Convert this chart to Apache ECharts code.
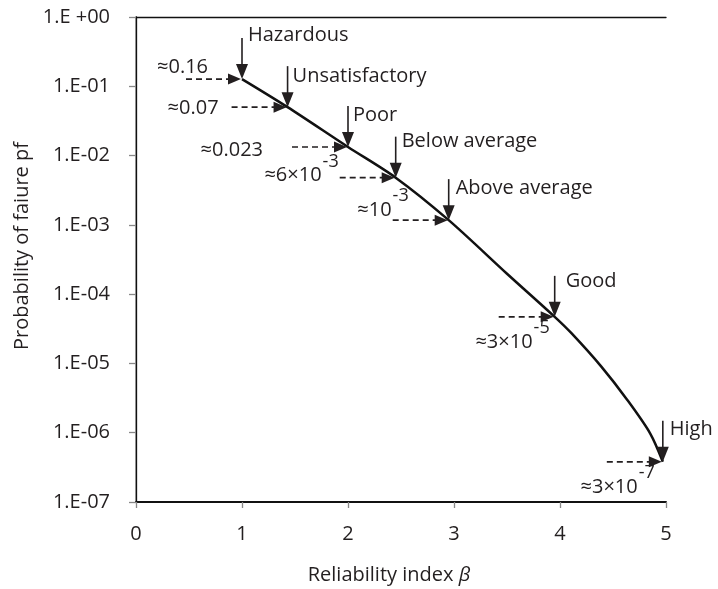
<!DOCTYPE html>
<html>
<head>
<meta charset="utf-8">
<style>
  html, body { margin: 0; padding: 0; background: #fff; }
  #chart { width: 718px; height: 589px; }
</style>
<script src="https://cdn.jsdelivr.net/npm/echarts@6/dist/echarts.min.js"></script>
</head>
<body>
<div id="chart"></div>
<script>
// Probability of failure versus reliability index (log scale)
const curveBeta = [1.0, 1.43, 2.0, 2.45, 2.95, 3.5, 3.95, 4.11, 4.39, 4.635, 4.85, 4.97];
const curvePf   = [0.127, 0.05, 0.0133, 0.0048, 0.00117, 1.97e-4, 4.7e-5, 2.71e-5, 9.0e-6, 2.97e-6, 9.8e-7, 3.8e-7];

// Performance levels marked along the curve
const classNames = ['Hazardous', 'Unsatisfactory', 'Poor', 'Below average', 'Above average', 'Good', 'High'];
const classBeta  = [1.0, 1.43, 2.0, 2.45, 2.95, 3.95, 4.97];
const classPf    = [0.127, 0.05, 0.0133, 0.0048, 0.00117, 4.7e-5, 3.8e-7];
const approxText = ['≈0.16', '≈0.07', '≈0.023', '≈6×10', '≈10', '≈3×10', '≈3×10'];
const approxExp  = ['', '', '', '-3', '-3', '-5', '-7'];

const xTicks = [0, 1, 2, 3, 4, 5];
const yTickLabels = ['1.E +00', '1.E-01', '1.E-02', '1.E-03', '1.E-04', '1.E-05', '1.E-06', '1.E-07'];

const FONT = '"Open Sans", "Liberation Sans", sans-serif';
const INK = '#231f20';
const FS = 20;
const SUP_FS = 18;

// Label placement per level (pixel offsets relative to the arrow tip)
const nameOffset = {
  'Hazardous': [6, -3], 'Unsatisfactory': [5, 10], 'Poor': [5, 9], 'Below average': [6, 5],
  'Above average': [7, 9], 'Good': [11, 5], 'High': [7, 8]
};
const approxOffset = {
  'Hazardous': [-34, -12], 'Unsatisfactory': [-69, 1], 'Poor': [-85, 3], 'Below average': [-57, -2],
  'Above average': [-40, -10], 'Good': [-5, 25], 'High': [-8, 25]
};

const measureCtx = document.createElement('canvas').getContext('2d');
function textWidth(str, size) {
  measureCtx.font = size + 'px ' + FONT;
  return measureCtx.measureText(str).width;
}

const chart = echarts.init(document.getElementById('chart'), null, { renderer: 'canvas' });

function renderMarker(params, api) {
  const i = api.value(2);
  const name = classNames[i];
  const p = api.coord([api.value(0), api.value(1)]);
  const x = p[0], y = p[1];
  const shaft = 41;
  const children = [
    // vertical solid arrow from above
    { type: 'line', shape: { x1: x, y1: y - shaft, x2: x, y2: y - 12 }, style: { stroke: INK, lineWidth: 1.6 } },
    { type: 'polygon', shape: { points: [[x - 6, y - 15], [x + 6, y - 15], [x, y]] }, style: { fill: INK } },
    // dashed arrow from the left
    { type: 'line', shape: { x1: x - 56, y1: y, x2: x - 12, y2: y }, style: { stroke: INK, lineWidth: 1.7, lineDash: [6, 4] } },
    { type: 'polygon', shape: { points: [[x - 14, y - 5.5], [x - 14, y + 5.5], [x - 1, y]] }, style: { fill: INK } },
    // level name
    { type: 'text', x: x + nameOffset[name][0], y: y - shaft + nameOffset[name][1],
      style: { text: name, fill: INK, fontSize: FS, fontFamily: FONT, align: 'left', verticalAlign: 'middle' } }
  ];
  const ao = approxOffset[name];
  const right = x + ao[0];
  const cy = y + ao[1];
  const exp = approxExp[i];
  const supW = exp ? textWidth(exp, SUP_FS) + 1 : 0;
  children.push({ type: 'text', x: right - supW, y: cy,
    style: { text: approxText[i], fill: INK, fontSize: FS, fontFamily: FONT, align: 'right', verticalAlign: 'middle' } });
  if (exp) {
    children.push({ type: 'text', x: right, y: cy - 14,
      style: { text: exp, fill: INK, fontSize: SUP_FS, fontFamily: FONT, align: 'right', verticalAlign: 'middle' } });
  }
  return { type: 'group', children: children };
}

const option = {
  backgroundColor: '#ffffff',
  animation: false,
  textStyle: { fontFamily: FONT, color: INK },
  grid: { left: 136, right: 52, top: 17, bottom: 87, containLabel: false },
  xAxis: [{
    type: 'value', min: xTicks[0], max: xTicks[xTicks.length - 1], interval: 1,
    axisLine: { show: true, onZero: false, lineStyle: { color: '#111', width: 2 } },
    axisTick: { show: true, length: 6, lineStyle: { color: '#888', width: 1.3 } },
    axisLabel: { fontSize: FS, color: INK, fontFamily: FONT, margin: 22 },
    splitLine: { show: false }
  }, {
    type: 'value', position: 'top', min: xTicks[0], max: xTicks[xTicks.length - 1],
    axisLine: { show: true, lineStyle: { color: '#111', width: 1.3 } },
    axisTick: { show: false }, axisLabel: { show: false }, splitLine: { show: false }
  }],
  yAxis: [{
    type: 'log', logBase: 10, min: 1e-7, max: 1,
    axisLine: { show: true, onZero: false, lineStyle: { color: '#8a8a8a', width: 1.5 } },
    axisTick: { show: true, length: 7, lineStyle: { color: '#888', width: 1.3 } },
    axisLabel: {
      fontSize: FS, color: INK, fontFamily: FONT, margin: 26,
      formatter: function (v) { return yTickLabels[Math.round(-Math.log10(v))]; }
    },
    minorTick: { show: false },
    splitLine: { show: false }
  }, {
    type: 'log', logBase: 10, min: 1e-7, max: 1, position: 'right',
    axisLine: { show: true, lineStyle: { color: '#111', width: 1.3 } },
    axisTick: { show: false }, axisLabel: { show: false }, splitLine: { show: false }
  }],
  graphic: [
    { type: 'text', x: 389, y: 575,
      style: { text: 'Reliability index {b|β}', fill: INK, fontSize: FS, fontFamily: FONT,
        align: 'center', verticalAlign: 'middle',
        rich: { b: { fontSize: FS, fontFamily: FONT, fontStyle: 'italic', fill: INK } } } },
    { type: 'text', x: 22, y: 246, rotation: Math.PI / 2,
      style: { text: 'Probability of faiure pf', fill: INK, fontSize: FS, fontFamily: FONT, align: 'center', verticalAlign: 'middle' } }
  ],
  series: [{
    type: 'line',
    data: curveBeta.map((b, k) => [b, curvePf[k]]),
    showSymbol: false,
    smooth: 0.3,
    lineStyle: { color: '#111', width: 2.5 },
    z: 3
  }, {
    type: 'custom',
    clip: false,
    data: classBeta.map((b, k) => [b, classPf[k], k]),
    renderItem: renderMarker,
    z: 5
  }]
};

chart.setOption(option);
</script>
</body>
</html>
